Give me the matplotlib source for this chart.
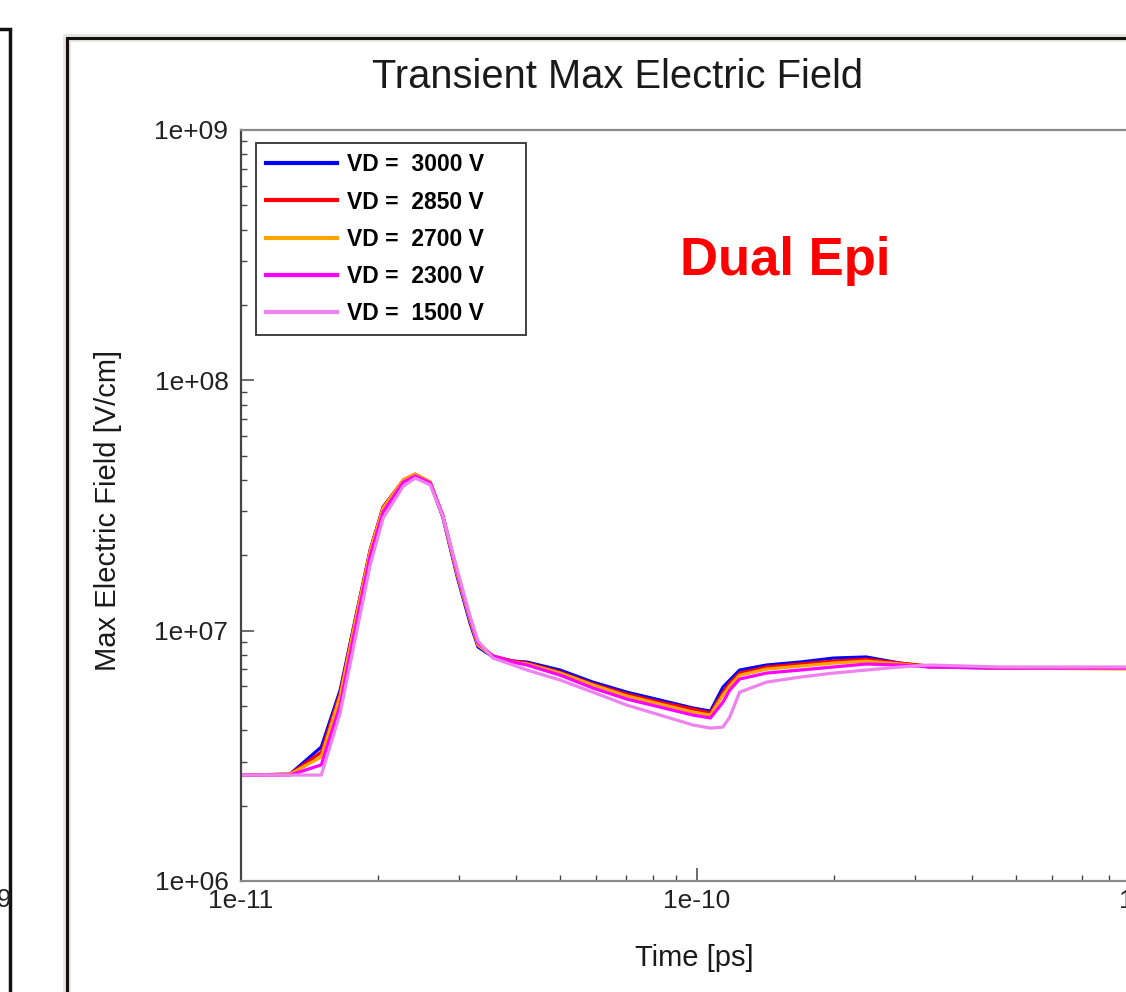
#!/usr/bin/env python
# -*- coding: utf-8 -*-

"""

  Transient max electric field for the dual epi structure.

"""

#...for the plotting.
import matplotlib
matplotlib.use("Agg")
import matplotlib.pyplot as plt
from matplotlib.patches import Rectangle
from matplotlib.ticker import FuncFormatter, NullFormatter, LogLocator

plt.rcParams['font.family'] = ['Liberation Sans', 'DejaVu Sans']

## The simulation time points [s].
time_s = [1.00e-11, 1.28e-11, 1.50e-11, 1.65e-11, 1.76e-11, 1.92e-11, 2.05e-11,
          2.27e-11, 2.41e-11, 2.60e-11, 2.77e-11, 2.98e-11, 3.18e-11, 3.31e-11,
          3.57e-11, 3.95e-11, 4.24e-11, 5.01e-11, 5.91e-11, 7.02e-11, 8.30e-11,
          9.80e-11, 1.07e-10, 1.14e-10, 1.18e-10, 1.24e-10, 1.42e-10, 1.68e-10,
          1.99e-10, 2.35e-10, 2.79e-10, 3.24e-10, 4.62e-10, 1.00e-9]

## Max electric field [V/cm] for each drain voltage.
e_3000 = [2.65e6, 2.67e6, 3.43e6, 5.79e6, 1.006e7, 2.10e7, 3.12e7, 3.96e7, 4.18e7,
          3.89e7, 2.84e7, 1.64e7, 1.07e7, 8.60e6, 7.85e6, 7.56e6, 7.49e6, 6.96e6,
          6.23e6, 5.68e6, 5.28e6, 4.91e6, 4.77e6, 5.95e6, 6.35e6, 6.96e6, 7.29e6,
          7.49e6, 7.77e6, 7.85e6, 7.42e6, 7.16e6, 7.09e6, 7.09e6]
e_2850 = [2.65e6, 2.67e6, 3.27e6, 5.63e6, 9.96e6, 2.10e7, 3.12e7, 4.00e7, 4.22e7,
          3.92e7, 2.87e7, 1.68e7, 1.10e7, 8.76e6, 7.92e6, 7.56e6, 7.42e6, 6.83e6,
          6.12e6, 5.58e6, 5.18e6, 4.86e6, 4.69e6, 5.68e6, 6.18e6, 6.77e6, 7.16e6,
          7.36e6, 7.56e6, 7.70e6, 7.42e6, 7.22e6, 7.09e6, 7.09e6]
e_2700 = [2.65e6, 2.67e6, 3.13e6, 5.48e6, 9.78e6, 2.08e7, 3.09e7, 4.00e7, 4.22e7,
          3.92e7, 2.87e7, 1.68e7, 1.10e7, 8.76e6, 7.85e6, 7.49e6, 7.36e6, 6.77e6,
          6.07e6, 5.48e6, 5.09e6, 4.73e6, 4.60e6, 5.53e6, 6.01e6, 6.64e6, 7.02e6,
          7.22e6, 7.42e6, 7.56e6, 7.36e6, 7.16e6, 7.09e6, 7.02e6]
e_2300 = [2.65e6, 2.65e6, 2.91e6, 5.04e6, 9.17e6, 1.99e7, 2.98e7, 3.92e7, 4.15e7,
          3.89e7, 2.90e7, 1.72e7, 1.12e7, 8.92e6, 7.92e6, 7.49e6, 7.29e6, 6.64e6,
          5.90e6, 5.33e6, 4.95e6, 4.60e6, 4.48e6, 5.18e6, 5.79e6, 6.41e6, 6.77e6,
          6.96e6, 7.16e6, 7.36e6, 7.29e6, 7.16e6, 7.09e6, 7.09e6]
e_1500 = [2.65e6, 2.65e6, 2.65e6, 4.69e6, 8.36e6, 1.83e7, 2.82e7, 3.78e7, 4.07e7,
          3.82e7, 2.87e7, 1.75e7, 1.14e7, 9.09e6, 7.77e6, 7.29e6, 6.96e6, 6.35e6,
          5.68e6, 5.04e6, 4.60e6, 4.20e6, 4.08e6, 4.12e6, 4.52e6, 5.68e6, 6.23e6,
          6.52e6, 6.77e6, 6.96e6, 7.16e6, 7.29e6, 7.16e6, 7.16e6]

## Legend labels and line colours.
labels = ["VD =  3000 V", "VD =  2850 V", "VD =  2700 V", "VD =  2300 V", "VD =  1500 V"]
colours = ["#0000ff", "#ff0000", "#ffa500", "#ff00ff", "#ee82ee"]
series = [e_3000, e_2850, e_2700, e_2300, e_1500]

## The figure (1126 x 992 pixels).
fig = plt.figure(figsize=(11.26, 9.92), dpi=100, facecolor='w')

# The neighbouring panel on the left (cropped).
fig.add_artist(Rectangle((-0.1, -0.1), 0.1 + 10.0/1126, 1.1 - 28.5/992, transform=fig.transFigure,
                         fill=False, edgecolor='#111111', linewidth=2.5))
fig.text(11.0/1126, 1 - 900.0/992, "1e-09", ha='right', va='center', fontsize=19, color='#222222')

# The frame of this panel (grey shadow + dark line).
fig.add_artist(Rectangle((66.5/1126, -0.1), 1.0, 1.1 - 37.5/992, transform=fig.transFigure,
                         fill=False, edgecolor='#e6e2dc', linewidth=5.5))
fig.add_artist(Rectangle((66.5/1126, -0.1), 1.0, 1.1 - 37.5/992, transform=fig.transFigure,
                         fill=False, edgecolor='#111111', linewidth=2.2))

## The plot axes (the right part falls outside the screenshot).
ax = fig.add_axes([241.0/1126, 111.0/992, 912.0/1126, 751.0/992])

# Draw the curves.
for vals, lab, col in zip(series, labels, colours):
    ax.plot(time_s, vals, color=col, linewidth=2.3, label=lab)

ax.set_xscale('log')
ax.set_yscale('log')
ax.set_xlim(1e-11, 1e-9)
ax.set_ylim(1e6, 1e9)

# Tick styling.
fmt = FuncFormatter(lambda v, p: '%.0e' % v)
ax.xaxis.set_major_formatter(fmt)
ax.yaxis.set_major_formatter(fmt)
ax.xaxis.set_minor_formatter(NullFormatter())
ax.yaxis.set_minor_formatter(NullFormatter())
ax.yaxis.set_minor_locator(LogLocator(base=10, subs=range(2, 10)))
ax.xaxis.set_minor_locator(LogLocator(base=10, subs=range(2, 10)))
ax.tick_params(which='major', direction='in', length=9.5, width=1.1, color='#444444',
               labelsize=19, labelcolor='#222222', pad=6)
ax.tick_params(which='minor', direction='in', length=4, width=1.0, color='#444444')
ax.tick_params(axis='y', pad=9)

for side in ['top', 'right', 'bottom']:
    ax.spines[side].set_color('#8a8a8a')
    ax.spines[side].set_linewidth(1.6)
ax.spines['left'].set_color('#444444')
ax.spines['left'].set_linewidth(1.6)

# The legend (trailing spaces widen the box like the original).
leg = ax.legend([l + "     " for l in labels], loc='upper left', bbox_to_anchor=(15.0/912, 1 - 13.0/751),
                borderaxespad=0, fancybox=False, framealpha=1, edgecolor='#333333',
                prop={'weight': 'bold', 'size': 16.5}, handlelength=3.1, handletextpad=0.42,
                labelspacing=0.62, borderpad=0.45)
leg.get_frame().set_linewidth(1.3)
for line in leg.get_lines():
    line.set_linewidth(3.0)

# Title and axis labels.
fig.text(617.0/1126, 1 - 88.0/992, "Transient Max Electric Field", ha='center', va='baseline',
         fontsize=28.7, color='#1a1a1a')
fig.text(108.0/1126, 1 - 510.0/992, "Max Electric Field [V/cm]", rotation=90, ha='center',
         va='center', fontsize=21, color='#1a1a1a')
fig.text(694.0/1126, 1 - 958.0/992, "Time [ps]", ha='center', va='center', fontsize=21,
         color='#1a1a1a')

# The annotation.
fig.text(680.0/1126, 1 - 275.0/992, "Dual Epi", ha='left', va='baseline', fontsize=38,
         fontweight='bold', color='#ff0000')

# Save the figure.
fig.savefig("out.png", dpi=100, facecolor='w')
